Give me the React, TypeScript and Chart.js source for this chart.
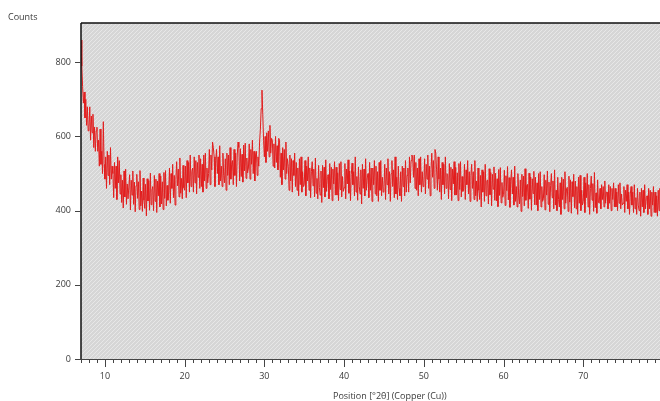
import React, { useEffect, useRef } from "react";
import { Chart, registerables } from "chart.js";

Chart.register(...registerables);

// XRD scan: counts sampled every 0.1 °2θ starting at 7.0 °2θ (one row per degree)
const startAngle = 7.0;
const stepAngle = 0.1;
const counts: number[] = [
  860, 790, 735, 690, 720, 650, 700, 630, 680, 615, // 7
  625, 680, 590, 655, 610, 660, 570, 625, 560, 615, // 8
  625, 560, 590, 520, 620, 525, 560, 500, 640, 525, // 9
  485, 545, 460, 560, 495, 550, 470, 570, 485, 520, // 10
  500, 435, 530, 460, 520, 430, 545, 475, 535, 445, // 11
  497, 422, 482, 407, 507, 437, 512, 417, 472, 432, // 12
  432, 497, 402, 482, 442, 507, 417, 477, 397, 467, // 13
  498, 433, 478, 403, 508, 413, 453, 398, 488, 428, // 14
  406, 471, 386, 486, 426, 481, 401, 501, 416, 456, // 15
  465, 400, 495, 425, 485, 395, 480, 440, 500, 410, // 16
  493, 418, 478, 403, 503, 433, 508, 413, 468, 428, // 17
  450, 515, 420, 500, 460, 525, 435, 495, 415, 485, // 18
  532, 467, 512, 437, 542, 447, 487, 432, 522, 462, // 19
  455, 520, 435, 535, 475, 530, 450, 550, 465, 505, // 20
  515, 450, 545, 475, 535, 445, 530, 490, 550, 460, // 21
  540, 465, 525, 450, 550, 480, 555, 460, 515, 475, // 22
  500, 565, 470, 550, 510, 585, 570, 545, 465, 535, // 23
  565, 500, 545, 470, 575, 480, 520, 465, 555, 495, // 24
  475, 540, 455, 555, 495, 550, 470, 570, 485, 525, // 25
  535, 470, 565, 495, 555, 465, 550, 585, 570, 480, // 26
  567, 492, 552, 477, 577, 507, 582, 487, 542, 502, // 27
  515, 580, 485, 565, 525, 590, 500, 560, 480, 550, // 28
  560, 495, 545, 520, 585, 620, 675, 725, 660, 590, // 29
  545, 600, 530, 610, 560, 615, 545, 630, 555, 595, // 30
  590, 520, 580, 515, 600, 530, 575, 510, 595, 590, // 31
  490, 555, 470, 570, 510, 565, 485, 585, 500, 540, // 32
  520, 455, 550, 480, 540, 450, 535, 495, 555, 465, // 33
  530, 455, 515, 440, 540, 470, 545, 450, 505, 465, // 34
  470, 535, 440, 520, 480, 545, 455, 515, 435, 505, // 35
  532, 467, 512, 437, 542, 447, 487, 432, 522, 462, // 36
  442, 507, 422, 522, 462, 517, 437, 537, 452, 492, // 37
  497, 432, 527, 457, 517, 427, 512, 472, 532, 442, // 38
  517, 442, 502, 427, 527, 457, 532, 437, 492, 452, // 39
  462, 527, 432, 512, 472, 537, 447, 507, 427, 497, // 40
  528, 470, 505, 440, 545, 450, 492, 428, 518, 466, // 41
  445, 510, 418, 525, 460, 512, 440, 540, 455, 488, // 42
  500, 435, 530, 455, 515, 425, 515, 470, 535, 445, // 43
  520, 440, 505, 425, 530, 455, 535, 440, 490, 450, // 44
  465, 525, 430, 515, 470, 540, 445, 505, 425, 500, // 45
  535, 465, 510, 435, 545, 445, 490, 430, 520, 460, // 46
  440, 505, 425, 520, 465, 515, 440, 535, 450, 495, // 47
  515, 450, 545, 475, 535, 550, 545, 490, 550, 460, // 48
  530, 455, 515, 440, 540, 470, 545, 450, 505, 465, // 49
  475, 540, 445, 525, 485, 550, 460, 520, 440, 510, // 50
  555, 490, 535, 460, 565, 555, 510, 455, 545, 485, // 51
  450, 515, 430, 530, 470, 525, 445, 545, 460, 500, // 52
  497, 432, 527, 457, 517, 427, 512, 472, 532, 442, // 53
  517, 442, 502, 427, 527, 457, 532, 437, 492, 452, // 54
  460, 525, 430, 510, 470, 535, 445, 505, 425, 495, // 55
  525, 460, 505, 430, 535, 440, 480, 425, 515, 455, // 56
  430, 495, 410, 510, 450, 505, 425, 525, 440, 480, // 57
  483, 418, 513, 443, 503, 413, 498, 458, 518, 428, // 58
  501, 426, 486, 411, 511, 441, 516, 421, 476, 436, // 59
  444, 509, 414, 494, 454, 519, 429, 489, 409, 479, // 60
  510, 445, 490, 415, 520, 425, 465, 410, 500, 440, // 61
  418, 483, 398, 498, 438, 493, 413, 513, 428, 468, // 62
  471, 406, 501, 431, 491, 401, 486, 446, 506, 416, // 63
  490, 415, 475, 400, 500, 430, 505, 410, 465, 425, // 64
  432, 497, 402, 482, 442, 507, 417, 477, 397, 467, // 65
  500, 435, 480, 405, 510, 415, 455, 400, 490, 430, // 66
  410, 475, 390, 490, 430, 485, 405, 505, 420, 460, // 67
  463, 398, 493, 423, 483, 393, 478, 438, 498, 408, // 68
  480, 405, 465, 390, 490, 420, 495, 400, 455, 415, // 69
  425, 490, 395, 475, 435, 500, 410, 470, 390, 460, // 70
  493, 428, 473, 398, 503, 408, 448, 393, 483, 423, // 71
  420, 460, 405, 470, 430, 465, 410, 480, 420, 450, // 72
  450, 405, 470, 420, 465, 400, 460, 430, 475, 410, // 73
  460, 410, 450, 400, 470, 420, 475, 405, 445, 415, // 74
  420, 465, 395, 455, 425, 470, 405, 450, 390, 445, // 75
  465, 415, 450, 395, 470, 405, 435, 390, 460, 415, // 76
  400, 450, 385, 460, 410, 455, 395, 470, 405, 435, // 77
  440, 390, 460, 405, 455, 385, 450, 415, 465, 395, // 78
  450, 395, 440, 385, 455, 400, 460, 390, 430, 400, // 79
  420, // 80
];

const xMin = 7;
const xMax = 80;
const yMin = 0;
const yMax = 906;
const xTickLabels = [10, 20, 30, 40, 50, 60, 70];
const yTickLabels = [0, 200, 400, 600, 800];
const xTitle = "Position [°2θ] (Copper (Cu))";
const yTitle = "Counts";

const FONT = "'Open Sans', 'Noto Sans', sans-serif";
const TEXT = "#3a3a3a";
const LINE = "rgb(226, 30, 30)";

function makeHatch(ctx: CanvasRenderingContext2D): CanvasPattern | string {
  const t = document.createElement("canvas");
  t.width = 4;
  t.height = 4;
  const c = t.getContext("2d");
  if (!c) return "#dcdcdc";
  c.fillStyle = "#d6d6d6";
  c.fillRect(0, 0, 4, 4);
  c.strokeStyle = "#e7e7e7";
  c.lineWidth = 1;
  c.beginPath();
  c.moveTo(-1, 5);
  c.lineTo(5, -1);
  c.moveTo(-1, 1);
  c.lineTo(1, -1);
  c.moveTo(3, 5);
  c.lineTo(5, 3);
  c.stroke();
  return ctx.createPattern(t, "repeat") || "#dcdcdc";
}

const framePlugin = {
  id: "xrdFrame",
  beforeDatasetsDraw(chart: any) {
    const { ctx, chartArea: a } = chart;
    ctx.save();
    ctx.fillStyle = makeHatch(ctx);
    ctx.fillRect(a.left, a.top, a.right - a.left, a.bottom - a.top);
    ctx.restore();
  },
  afterDatasetsDraw(chart: any) {
    const { ctx, chartArea: a, scales } = chart;
    const xs = scales.x;
    const ys = scales.y;
    ctx.save();
    ctx.strokeStyle = "#111";
    ctx.lineWidth = 1.5;
    ctx.beginPath();
    ctx.moveTo(a.left, a.top);
    ctx.lineTo(a.right, a.top);
    ctx.moveTo(a.left, a.top);
    ctx.lineTo(a.left, a.bottom);
    ctx.stroke();
    ctx.strokeStyle = "#444";
    ctx.lineWidth = 1;
    ctx.beginPath();
    ctx.moveTo(a.left - 6, Math.round(a.bottom) + 0.5);
    ctx.lineTo(a.right, Math.round(a.bottom) + 0.5);
    ctx.stroke();
    ctx.beginPath();
    for (const v of yTickLabels) {
      const y = Math.round(ys.getPixelForValue(v)) + 0.5;
      ctx.moveTo(a.left - 6, y);
      ctx.lineTo(a.left, y);
    }
    ctx.stroke();
    ctx.beginPath();
    for (let d = xMin; d <= xMax; d++) {
      const x = Math.round(xs.getPixelForValue(d)) + 0.5;
      const len = d % 10 === 0 ? 8 : 4;
      ctx.moveTo(x, a.bottom);
      ctx.lineTo(x, a.bottom + len);
    }
    ctx.stroke();
    ctx.fillStyle = TEXT;
    ctx.font = `9px ${FONT}`;
    ctx.textBaseline = "middle";
    ctx.textAlign = "left";
    ctx.fillText(yTitle, 8, 17);
    ctx.fillText(xTitle, 333, 396);
    ctx.restore();
  },
};

export default function App() {
  const ref = useRef<HTMLCanvasElement | null>(null);

  useEffect(() => {
    const canvas = ref.current;
    if (!canvas) return;
    const points = counts.map((c, i) => ({
      x: Math.round((startAngle + i * stepAngle) * 10) / 10,
      y: c,
    }));
    const chart = new Chart(canvas, {
      type: "line",
      data: {
        datasets: [
          {
            data: points,
            borderColor: LINE,
            borderWidth: 1,
            pointRadius: 0,
            tension: 0,
            fill: false,
          },
        ],
      },
      options: {
        animation: false,
        responsive: false,
        maintainAspectRatio: false,
        events: [],
        layout: { padding: { top: 23, right: 0, bottom: 0, left: 0 } },
        plugins: {
          legend: { display: false },
          tooltip: { enabled: false },
          title: { display: false },
        },
        scales: {
          x: {
            type: "linear",
            min: xMin,
            max: xMax,
            afterBuildTicks: (s: any) => {
              s.ticks = xTickLabels.map((v) => ({ value: v }));
            },
            afterFit: (s: any) => {
              s.height = 42;
              s.paddingLeft = 0;
              s.paddingRight = 0;
            },
            grid: { display: false, drawTicks: false },
            border: { display: false },
            ticks: {
              padding: 12,
              autoSkip: false,
              maxRotation: 0,
              color: TEXT,
              font: { family: FONT, size: 9 },
            },
          },
          y: {
            type: "linear",
            min: yMin,
            max: yMax,
            afterBuildTicks: (s: any) => {
              s.ticks = yTickLabels.map((v) => ({ value: v }));
            },
            afterFit: (s: any) => {
              s.width = 81;
              s.paddingTop = 0;
              s.paddingBottom = 0;
            },
            grid: { display: false, drawTicks: false },
            border: { display: false },
            ticks: {
              padding: 10,
              autoSkip: false,
              color: TEXT,
              font: { family: FONT, size: 9 },
            },
          },
        },
      },
      plugins: [framePlugin],
    } as any);
    return () => chart.destroy();
  }, []);

  return (
    <div
      style={{
        position: "fixed",
        left: 0,
        top: 0,
        width: 660,
        height: 401,
        overflow: "hidden",
        background: "#fff",
      }}
    >
      <canvas
        ref={ref}
        width={663}
        height={401}
        style={{ width: 663, height: 401, display: "block" }}
      />
    </div>
  );
}
